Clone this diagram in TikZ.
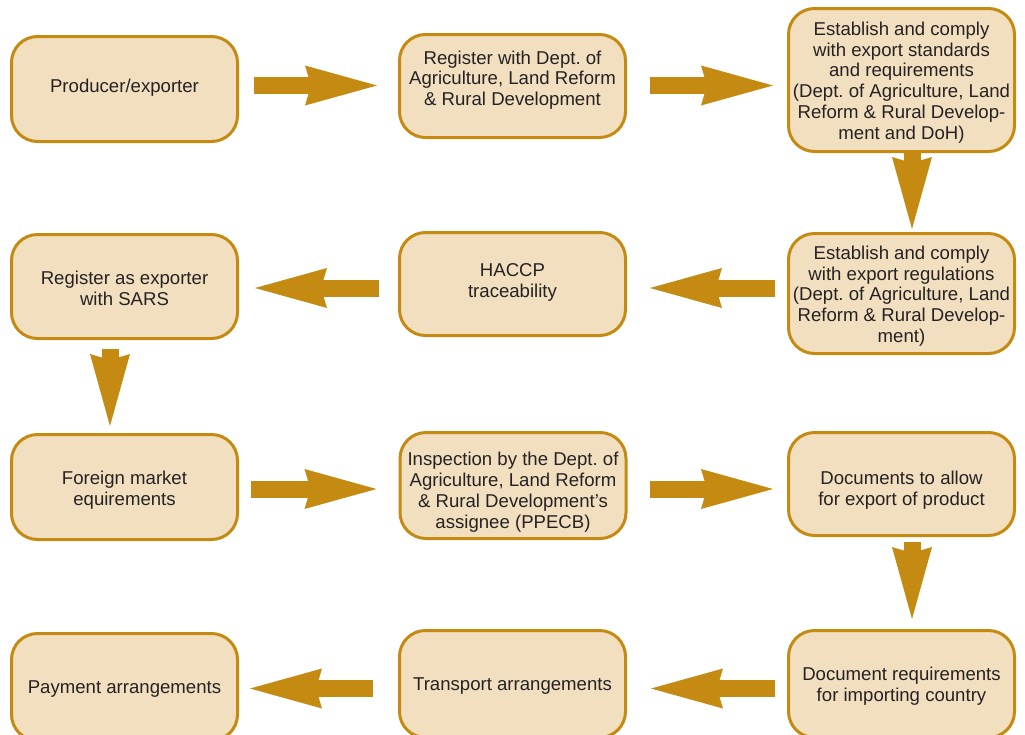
\documentclass[tikz,border=0pt]{standalone}
\usepackage{fontspec}
\setmainfont{Liberation Sans}
\usetikzlibrary{arrows.meta}
\definecolor{gold}{HTML}{C48A12}
\definecolor{sand}{HTML}{F2DFC0}
\definecolor{ink}{HTML}{262223}
\frenchspacing

\begin{document}
\begin{tikzpicture}[x=1pt,y=-1pt,
  stepbox/.style={draw=gold, fill=sand, line width=3pt, rounded corners=26pt,
    minimum width=226pt, minimum height=#1, inner sep=0pt},
  steptext/.style={inner sep=0pt, align=center, text=ink,
    font=\fontsize{18.6}{20.8}\selectfont},
  flow/.style={draw=gold, line width=17pt,
    -{Stealth[length=72pt,width=40pt,inset=6pt,line width=0pt]}}
]
\useasboundingbox (0,0) rectangle (1025,734);

% guide lines for the connectors
\coordinate (r1) at (0,85.5);
\coordinate (r2) at (0,288);
\coordinate (r3) at (0,489);
\coordinate (r4) at (0,688.5);
\coordinate (c1) at (110,0);
\coordinate (c3) at (912,0);

% step boxes
\node[stepbox=105pt] (b1) at (124.5,89) {};
\node[stepbox=103pt] (b2) at (512.5,86) {};
\node[stepbox=143pt] (b3) at (901.5,80) {};
\node[stepbox=104pt] (b4) at (124.5,286.5) {};
\node[stepbox=103pt] (b5) at (512.5,284) {};
\node[stepbox=120pt] (b6) at (901.5,293.5) {};
\node[stepbox=105pt] (b7) at (124.5,487) {};
\node[stepbox=106pt] (b8) at (513,485.5) {};
\node[stepbox=103pt] (b9) at (901.5,484) {};
\node[stepbox=107pt] (b10) at (124.5,687) {};
\node[stepbox=107pt] (b11) at (512.5,684) {};
\node[stepbox=107pt] (b12) at (901.5,684) {};

% step texts
\node[steptext] (t1) at (124.5,88) {Producer/exporter};
\node[steptext] (t2) at (512.5,80) {Register with Dept. of\\Agriculture, Land Reform\\\& Rural Development};
\node[steptext] (t3) at (901.5,82.5) {Establish and comply\\with export standards\\and requirements\\(Dept. of Agriculture, Land\\Reform \& Rural Develop-\\ment and DoH)};
\node[steptext] (t4) at (124.5,288.5) {Register as exporter\\with SARS};
\node[steptext] (t5) at (512.5,282.5) {HACCP\\traceability};
\node[steptext] (t6) at (901.5,296) {Establish and comply\\with export regulations\\(Dept. of Agriculture, Land\\Reform \& Rural Develop-\\ment)};
\node[steptext] (t7) at (124.5,490.5) {Foreign market\\equirements};
\node[steptext] (t8) at (513,492) {Inspection by the Dept. of\\Agriculture, Land Reform\\\& Rural Development’s\\assignee (PPECB)};
\node[steptext] (t9) at (901.5,490.5) {Documents to allow\\for export of product};
\node[steptext] (t10) at (124.5,689) {Payment arrangements};
\node[steptext] (t11) at (512.5,686) {Transport arrangements};
\node[steptext] (t12) at (901.5,686) {Document requirements\\for importing country};

% connectors
\draw[flow, shorten <=15pt, shorten >=21pt] (b1.east |- r1) -- (b2.west |- r1);
\draw[flow, shorten <=23pt, shorten >=14pt] (b2.east |- r1) -- (b3.west |- r1);
\draw[flow, shorten >=3pt] (b3.south -| c3) -- (b6.north -| c3);
\draw[flow, shorten <=12pt, shorten >=23pt] (b6.west |- r2) -- (b5.east |- r2);
\draw[flow, shorten <=19pt, shorten >=16pt] (b5.west |- r2) -- (b4.east |- r2);
\draw[flow, shorten <=9pt, shorten >=7pt] (b4.south -| c1) -- (b7.north -| c1);
\draw[flow, shorten <=12pt, shorten >=22pt] (b7.east |- r3) -- (b8.west |- r3);
\draw[flow, shorten <=22pt, shorten >=14pt] (b8.east |- r3) -- (b9.west |- r3);
\draw[flow, shorten <=5pt, shorten >=10pt] (b9.south -| c3) -- (b12.north -| c3);
\draw[flow, shorten <=12pt, shorten >=24pt] (b12.west |- r4) -- (b11.east |- r4);
\draw[flow, shorten <=25pt, shorten >=11pt] (b11.west |- r4) -- (b10.east |- r4);
\end{tikzpicture}
\end{document}
